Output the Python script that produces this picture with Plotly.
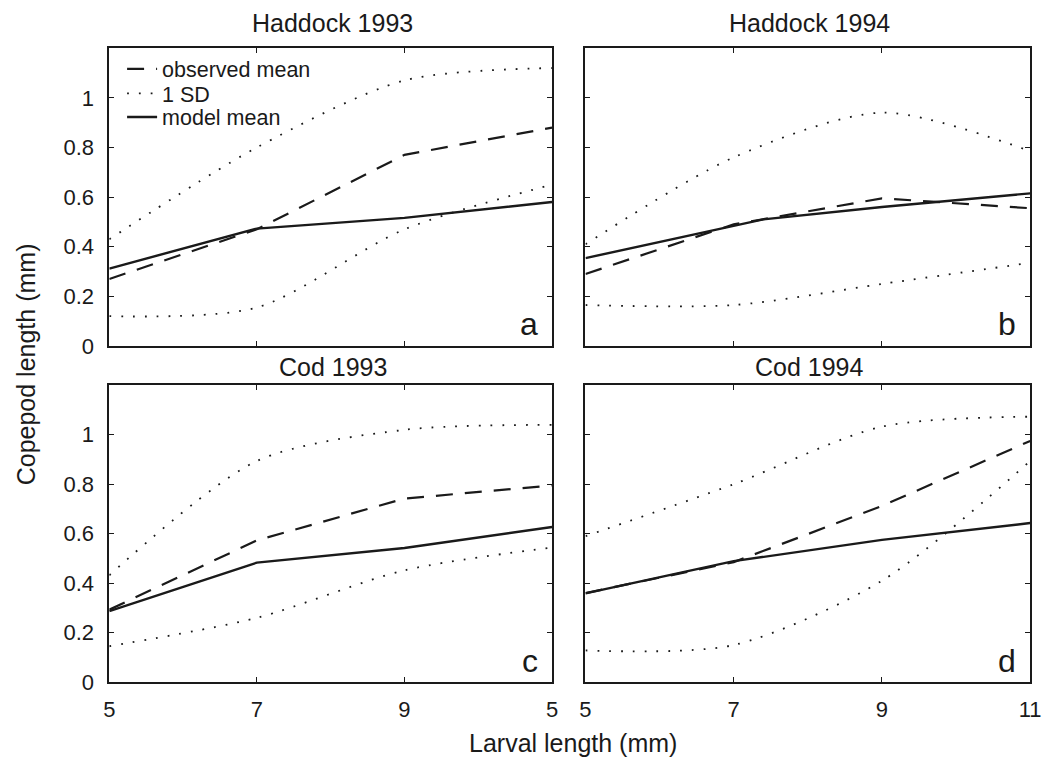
import plotly.graph_objects as go

# ---------------- data ----------------
x_pts = [5, 7, 9, 11]

# Panel a: Haddock 1993
a_obs = [0.27, 0.47, 0.77, 0.88]
a_sd_hi = [0.43, 0.80, 1.07, 1.12]
a_sd_lo = [0.12, 0.155, 0.47, 0.65]
a_model_x = [5, 7, 9, 11]
a_model = [0.312, 0.473, 0.516, 0.58]

# Panel b: Haddock 1994
b_obs = [0.29, 0.49, 0.595, 0.555]
b_sd_hi = [0.41, 0.76, 0.94, 0.785]
b_sd_lo = [0.165, 0.165, 0.25, 0.335]
b_model_x = [5, 7.4, 9, 11]
b_model = [0.354, 0.51, 0.56, 0.615]

# Panel c: Cod 1993
c_obs = [0.293, 0.573, 0.742, 0.795]
c_sd_hi = [0.432, 0.894, 1.02, 1.04]
c_sd_lo = [0.145, 0.26, 0.452, 0.544]
c_model_x = [5, 7, 9, 11]
c_model = [0.287, 0.483, 0.542, 0.627]

# Panel d: Cod 1994
d_obs = [0.36, 0.485, 0.712, 0.975]
d_sd_hi = [0.59, 0.80, 1.033, 1.073]
d_sd_lo = [0.128, 0.15, 0.41, 0.894]
d_model_x = [5, 7, 9, 11]
d_model = [0.359, 0.489, 0.575, 0.643]

titles = ["Haddock 1993", "Haddock 1994", "Cod 1993", "Cod 1994"]
letters = ["a", "b", "c", "d"]
x_tickvals = [5, 7, 9, 11]
x_ticktext_left = ["5", "7", "9", "5"]
x_ticktext_right = ["5", "7", "9", "11"]
y_tickvals = [0, 0.2, 0.4, 0.6, 0.8, 1.0]
y_ticktext = ["0", "0.2", "0.4", "0.6", "0.8", "1"]

panels = [
    (a_obs, a_sd_hi, a_sd_lo, a_model_x, a_model),
    (b_obs, b_sd_hi, b_sd_lo, b_model_x, b_model),
    (c_obs, c_sd_hi, c_sd_lo, c_model_x, c_model),
    (d_obs, d_sd_hi, d_sd_lo, d_model_x, d_model),
]

# ---------------- layout geometry ----------------
W, H = 1052, 759
FONT = "Liberation Sans, Arial, Helvetica, sans-serif"
INK = "#1a1a1a"

xdom = [[105 / W, 555 / W], [589 / W, 1041 / W]]
ydom = [[1 - 352 / H, 1 - 49 / H], [1 - 694 / H, 1 - 392 / H]]
title_gap = [9, 2]

DOT = "1.8px,10px"
DASH = "17px,12px"

fig = go.Figure()

for i, (obs, hi, lo, mx, mod) in enumerate(panels):
    n = "" if i == 0 else str(i + 1)
    xa, ya = "x" + n, "y" + n
    show = i == 0
    fig.add_trace(go.Scatter(x=x_pts, y=obs, xaxis=xa, yaxis=ya, mode="lines",
                             line=dict(color=INK, width=2.2, dash=DASH),
                             name="observed mean", showlegend=show, legend="legend"))
    fig.add_trace(go.Scatter(x=x_pts, y=hi, xaxis=xa, yaxis=ya, mode="lines",
                             line=dict(color=INK, width=1.8, dash=DOT, shape="spline", smoothing=0.8),
                             name="1 SD", showlegend=show, legend="legend2"))
    fig.add_trace(go.Scatter(x=mx, y=mod, xaxis=xa, yaxis=ya, mode="lines",
                             line=dict(color=INK, width=2.4),
                             name="model mean", showlegend=show, legend="legend3"))
    fig.add_trace(go.Scatter(x=x_pts, y=lo, xaxis=xa, yaxis=ya, mode="lines",
                             line=dict(color=INK, width=1.8, dash=DOT, shape="spline", smoothing=0.8),
                             name="1 SD", showlegend=False))

axis_common = dict(showgrid=False, zeroline=False, showline=True, linecolor=INK,
                   linewidth=1.6, mirror="ticks", ticks="inside", ticklen=5,
                   tickcolor=INK, tickwidth=1,
                   tickfont=dict(family=FONT, size=22, color=INK))

def legend_at(row_y):
    return dict(x=118 / W, y=1 - row_y / H, xanchor="left", yanchor="middle",
                bgcolor="rgba(0,0,0,0)", borderwidth=0,
                font=dict(family=FONT, size=21.5, color=INK))

layout = dict(width=W, height=H, margin=dict(l=0, r=0, t=0, b=0),
              paper_bgcolor="white", plot_bgcolor="white",
              font=dict(family=FONT, color=INK),
              legend=legend_at(70), legend2=legend_at(95), legend3=legend_at(119),
              annotations=[])

for i in range(4):
    n = "" if i == 0 else str(i + 1)
    col = i % 2
    row = i // 2
    xk, yk = "xaxis" + n, "yaxis" + n
    layout[xk] = dict(axis_common, domain=xdom[col], range=[5, 11], anchor="y" + n,
                      tickvals=x_tickvals, ticklabelstandoff=7,
                      ticktext=x_ticktext_left if col == 0 else x_ticktext_right,
                      showticklabels=(row == 1))
    layout[yk] = dict(axis_common, domain=ydom[row], range=[0, 1.2], anchor="x" + n,
                      tickvals=y_tickvals, ticktext=y_ticktext, ticklabelstandoff=9,
                      showticklabels=(col == 0))
    # subplot title
    layout["annotations"].append(dict(
        text=titles[i], xref="paper", yref="paper",
        x=(xdom[col][0] + xdom[col][1]) / 2 + 2 / W, y=ydom[row][1] + title_gap[row] / H,
        xanchor="center", yanchor="bottom", showarrow=False,
        font=dict(family=FONT, size=25, color=INK)))
    # panel letter
    layout["annotations"].append(dict(
        text=letters[i], xref="x" + n + " domain", yref="y" + n + " domain",
        x=0.972, y=0.005, xanchor="right", yanchor="bottom", showarrow=False,
        font=dict(family=FONT, size=32, color=INK)))

layout["annotations"].append(dict(
    text="Copepod length (mm)", xref="paper", yref="paper",
    x=20 / W, y=1 - 371 / H, xanchor="center", yanchor="middle", textangle=-90,
    showarrow=False, font=dict(family=FONT, size=25, color=INK)))
layout["annotations"].append(dict(
    text="Larval length (mm)", xref="paper", yref="paper",
    x=576 / W, y=1 - 756 / H, xanchor="center", yanchor="middle",
    showarrow=False, font=dict(family=FONT, size=25, color=INK)))

fig.update_layout(**layout)
fig.write_html("out.html")
